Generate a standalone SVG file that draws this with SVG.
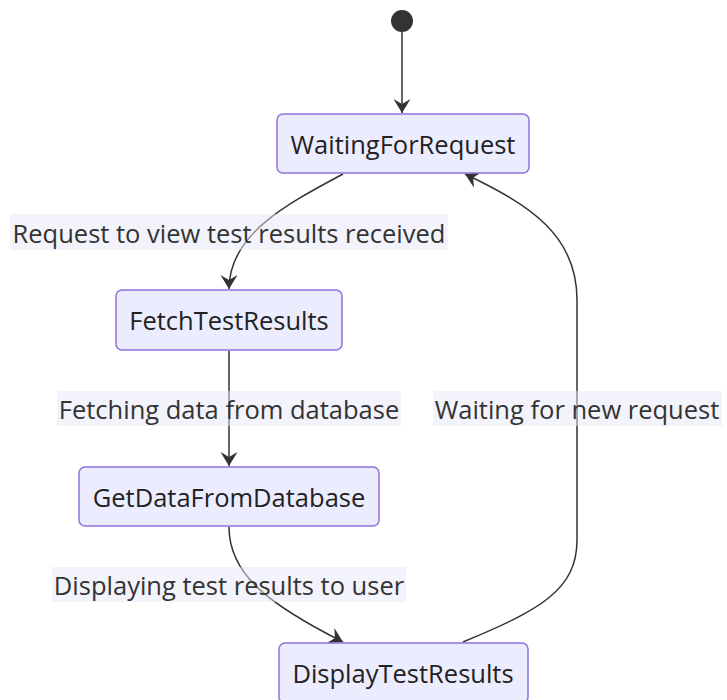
<svg xmlns="http://www.w3.org/2000/svg" width="727" height="700" viewBox="0 0 727 700">
  <style>
    .state rect { fill: #ECECFF; stroke: #9370DB; stroke-width: 1.5; }
    .state text { font-family: "Open Sans", "Liberation Sans", sans-serif; font-size: 25.5px; fill: #222; text-anchor: middle; dominant-baseline: central; }
    .edge { fill: none; stroke: #333; stroke-width: 1.5; }
    .label rect { fill: rgb(232,232,248); fill-opacity: 0.5; }
    .label text { font-family: "Open Sans", "Liberation Sans", sans-serif; font-size: 25.5px; fill: #333; text-anchor: middle; dominant-baseline: central; }
  </style>
  <defs>
    <marker id="barb" viewBox="0 0 15 18" refX="14" refY="9" markerWidth="15" markerHeight="18" markerUnits="userSpaceOnUse" orient="auto">
      <path d="M0,0.5 L14,9 L0,17.5 L5,9 Z" fill="#333"/>
    </marker>
  </defs>

  <rect width="727" height="700" fill="#FFFFFF"/>

  <!-- transitions -->
  <g id="connectors">
    <path class="edge" d="M402,32 L402,113" marker-end="url(#barb)"/>
    <path class="edge" d="M343,174 C285,205 229,235 229,289" marker-end="url(#barb)"/>
    <path class="edge" d="M229,351 L229,466" marker-end="url(#barb)"/>
    <path class="edge" d="M229,527 C229,575 270,605 343,642" marker-end="url(#barb)"/>
    <path class="edge" d="M463,642 C540,610 577,590 577,540 L577,300 C577,235 530,205 465,174" marker-end="url(#barb)"/>
  </g>

  <!-- transition labels -->
  <g class="label" id="label-request">
    <rect x="10" y="214" width="438" height="36"/>
    <text x="229" y="232.5">Request to view test results received</text>
  </g>
  <g class="label" id="label-fetching">
    <rect x="57" y="391" width="344" height="35"/>
    <text x="229" y="408.5">Fetching data from database</text>
  </g>
  <g class="label" id="label-waiting">
    <rect x="433" y="391" width="289" height="35"/>
    <text x="577" y="408.5">Waiting for new request</text>
  </g>
  <g class="label" id="label-displaying">
    <rect x="52" y="567" width="354" height="35"/>
    <text x="229" y="584.5">Displaying test results to user</text>
  </g>

  <!-- initial state -->
  <g id="start">
    <circle cx="402" cy="21" r="11" fill="#333"/>
  </g>

  <!-- states -->
  <g class="state" id="WaitingForRequest">
    <rect x="277" y="114" width="252" height="59" rx="6"/>
    <text x="403" y="143.5">WaitingForRequest</text>
  </g>
  <g class="state" id="FetchTestResults">
    <rect x="116" y="290" width="226" height="60" rx="6"/>
    <text x="229" y="319.5">FetchTestResults</text>
  </g>
  <g class="state" id="GetDataFromDatabase">
    <rect x="79" y="467" width="300" height="59" rx="6"/>
    <text x="229" y="496.5">GetDataFromDatabase</text>
  </g>
  <g class="state" id="DisplayTestResults">
    <rect x="279" y="643" width="249" height="60" rx="6"/>
    <text x="403" y="672.5">DisplayTestResults</text>
  </g>
</svg>
